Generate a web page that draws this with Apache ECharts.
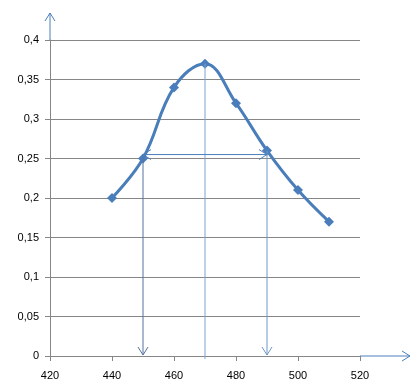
<!DOCTYPE html>
<html><head><meta charset="utf-8">
<script src="https://cdn.jsdelivr.net/npm/echarts@6/dist/echarts.min.js"></script>
<style>html,body{margin:0;padding:0;background:#fff}#c{width:420px;height:391px}</style>
</head><body><div id="c"></div>
<script>
const xValues = [440, 450, 460, 470, 480, 490, 500, 510];
const yValues = [0.2, 0.25, 0.34, 0.37, 0.32, 0.26, 0.21, 0.17];
const widthLevel = 0.255;
const leftX = 450, rightX = 490, peakX = 470;

const chart = echarts.init(document.getElementById('c'));
const font = 'Liberation Sans, Arial, sans-serif';
chart.setOption({
  animation: false,
  grid: {left: 50, right: 60, top: 40, bottom: 35},
  xAxis: {
    type: 'value', min: 420, max: 520, interval: 20,
    axisLine: {show: true, lineStyle: {color: '#868686', width: 1}},
    axisTick: {show: true, length: 5, lineStyle: {color: '#868686'}},
    axisLabel: {color: '#000', fontSize: 11, fontFamily: font, margin: 14},
    splitLine: {show: false}
  },
  yAxis: {
    type: 'value', min: 0, max: 0.4, interval: 0.05,
    axisLine: {show: true, lineStyle: {color: '#868686', width: 1}},
    axisTick: {show: true, length: 5, lineStyle: {color: '#868686'}},
    axisLabel: {color: '#000', fontSize: 11, fontFamily: font, margin: 11,
      formatter: v => String(+v.toFixed(2)).replace('.', ',')},
    splitLine: {show: true, lineStyle: {color: '#868686', width: 1}}
  },
  series: [{
    type: 'line',
    data: xValues.map((x, i) => [x, yValues[i]]),
    smooth: 0.4,
    symbol: 'diamond', symbolSize: 10,
    lineStyle: {color: '#4A7EBB', width: 3},
    itemStyle: {color: '#4A7EBB'},
    z: 5
  }]
});

const P = (x, y) => chart.convertToPixel({gridIndex: 0}, [x, y]);
function head(tip, dx, dy, color) {
  const L = 8, W = 5;
  const px = -dy, py = dx;
  return {type: 'polyline', shape: {points: [
    [tip[0] - dx * L + px * W, tip[1] - dy * L + py * W],
    tip,
    [tip[0] - dx * L - px * W, tip[1] - dy * L - py * W]]},
    style: {stroke: color, lineWidth: 1, fill: null}, z: 10};
}
function seg(a, b, color, w) {
  return {type: 'line', shape: {x1: a[0], y1: a[1], x2: b[0], y2: b[1]},
    style: {stroke: color, lineWidth: w || 1}, z: 10};
}
const g = [];
const topPt = P(420, 0.4), rightPt = P(520, 0);
const axisBlue = '#4A7EBB';
g.push(seg(topPt, [topPt[0], 13], axisBlue));
g.push(head([topPt[0], 13], 0, -1, axisBlue));
g.push(seg(rightPt, [410, rightPt[1]], axisBlue));
g.push(head([410, rightPt[1]], 1, 0, axisBlue));
const li = xValues.indexOf(leftX), ri = xValues.indexOf(rightX), pi = xValues.indexOf(peakX);
const a1 = P(leftX, yValues[li]), a0 = P(leftX, 0);
g.push(seg(a1, [a0[0], a0[1] - 1], '#55739F'));
g.push(head([a0[0], a0[1] - 1], 0, 1, '#55739F'));
const b1 = P(rightX, yValues[ri]), b0 = P(rightX, 0);
g.push(seg(b1, [b0[0], b0[1] - 1], '#6F97C9'));
g.push(head([b0[0], b0[1] - 1], 0, 1, '#6F97C9'));
const c1 = P(peakX, yValues[pi]), c0 = P(peakX, 0);
g.push(seg(c1, [c0[0], c0[1] + 3], '#7FA3D2'));
const h1 = P(leftX, widthLevel), h2 = P(rightX, widthLevel);
g.push(seg(h1, h2, '#4A7EBB'));
g.push(head(h1, -1, 0, '#4A7EBB'));
g.push(head(h2, 1, 0, '#4A7EBB'));
chart.setOption({graphic: g.map(e => Object.assign(e, {silent: true}))});
</script></body></html>
